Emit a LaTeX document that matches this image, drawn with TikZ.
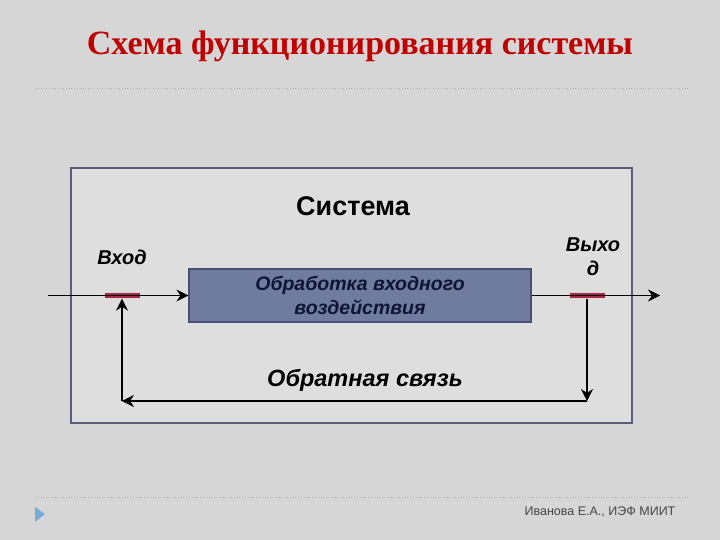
\documentclass[tikz,border=0pt]{standalone}
\usepackage{fontspec}
\setmainfont{Liberation Sans}
\newfontfamily\titlefont{Liberation Serif}
\usetikzlibrary{arrows.meta}
\usetikzlibrary{positioning}

\definecolor{bgGray}{RGB}{214,214,214}
\definecolor{sysGray}{RGB}{222,222,222}
\definecolor{sysFrame}{RGB}{92,92,122}
\definecolor{procFill}{RGB}{111,124,160}
\definecolor{procLine}{RGB}{74,80,112}
\definecolor{titleRed}{RGB}{192,0,0}
\definecolor{portRed}{RGB}{165,40,70}
\definecolor{navyText}{RGB}{15,20,50}
\definecolor{footGray}{RGB}{70,70,70}
\definecolor{markBlue}{RGB}{120,170,220}

\tikzset{
  port/.style={rectangle, draw=gray!30, fill=portRed, minimum width=36pt,
    minimum height=6pt, inner sep=0pt},
  label/.style={font=\bfseries\itshape\fontsize{20}{24}\selectfont, align=center},
  flow/.style={-{Stealth[length=12pt,width=12pt,inset=4pt]}, line width=1.1pt},
}

\begin{document}
\begin{tikzpicture}[x=1pt, y=-1pt]
  % ===== Background =====
  \fill[bgGray] (0,0) rectangle (720,540);
  \useasboundingbox (0,0) rectangle (720,540);

  % Title
  \node[text=titleRed, font=\titlefont\bfseries\fontsize{34}{38}\selectfont] (title) at (360,46)
    {Схема функционирования системы};
  \draw[gray!65, dotted, line width=0.8pt] (35,88) -- (690,88);
  \draw[gray!65, dotted, line width=0.8pt] (35,497) -- (690,497);

  % System frame
  \draw[sysFrame, fill=sysGray, line width=1.8pt] (71,168) rectangle (632,423);
  \node[font=\bfseries\fontsize{27}{30}\selectfont] (sys) at (353,206) {Система};

  % Processing block
  \node[rectangle, draw=procLine, line width=1.2pt, fill=procFill, minimum width=342pt,
    minimum height=53pt, text=navyText, label, font=\bfseries\itshape\fontsize{19.5}{24}\selectfont]
    (proc) at (360,295.5) {Обработка входного\\воздействия};

  % Ports
  \node[port] (inport) at (122,295.5) {};
  \node[port] (outport) at (587,295.5) {};
  \node[label] (inlbl) at (122,257) {Вход};
  \node[label] (outlbl) at (593,257) {Выхо\\д};

  % Input and output lines
  \coordinate (inStart) at (48,295.5);
  \coordinate (outEnd) at (660,295.5);
  \draw[flow, line width=0.8pt] (inStart) -- (proc.west);
  \draw[flow, line width=0.8pt] (proc.east) -- (outEnd);

  % Feedback loop
  \coordinate (fbRight) at (587,401);
  \coordinate (fbLeft) at (122,401);
  \draw[flow] (outport.south) -- (fbRight);
  \draw[flow] (fbRight) -- (fbLeft);
  \draw[flow] (fbLeft) -- (inport.south);
  \node[label, font=\bfseries\itshape\fontsize{23.5}{26}\selectfont] (fblbl) at (365,380) {Обратная связь};

  % Footer
  \fill[markBlue] (35,507) -- (45,514) -- (35,522) -- cycle;
  \node[text=footGray, font=\fontsize{12.5}{15}\selectfont] (foot) at (600,512)
    {Иванова Е.А., ИЭФ МИИТ};
\end{tikzpicture}
\end{document}
